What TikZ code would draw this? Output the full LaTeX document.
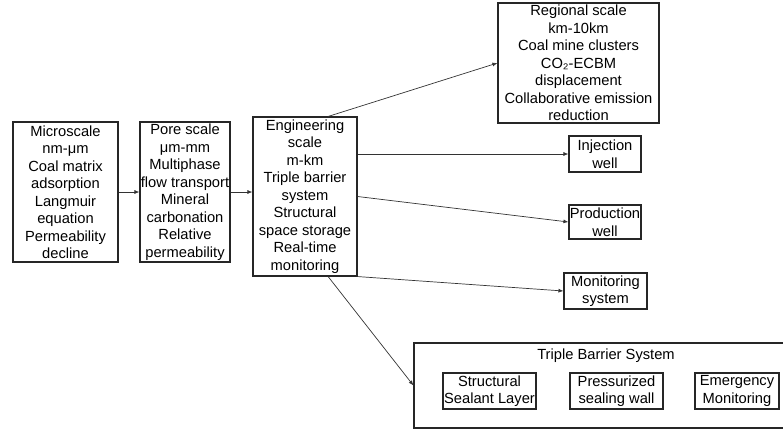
\documentclass[tikz,border=0pt]{standalone}
\usepackage{fontspec}
\setmainfont{Liberation Sans}
\usetikzlibrary{arrows.meta,calc}

\tikzset{
  scalebox/.style={draw=black!85, line width=1.1pt, align=center, inner sep=0.5pt,
    font=\fontsize{14.7}{17.5}\selectfont},
  flowarrow/.style={draw=black!80, line width=0.7pt, -{Latex[length=5pt,width=4pt]}}
}

\begin{document}
\begin{tikzpicture}[x=1pt,y=1pt,yscale=-1]
    %set diagram to the size of the reference
    \useasboundingbox (0,0) rectangle (783,429);

    % Scale boxes
    \node [scalebox, minimum width=105, minimum height=140] (micro) at (65.5,192) {Microscale\\nm-μm\\Coal matrix\\adsorption\\Langmuir\\equation\\Permeability\\decline};
    \node [scalebox, minimum width=90, minimum height=140] (pore) at (185,192) {Pore scale\\μm-mm\\Multiphase\\flow transport\\Mineral\\carbonation\\Relative\\permeability};
    \node [scalebox, minimum width=104, minimum height=159] (eng) at (305,196.5) {Engineering\\scale\\m-km\\Triple barrier\\system\\Structural\\space storage\\Real-time\\monitoring};
    \node [scalebox, minimum width=161, minimum height=120] (region) at (578.5,63) {Regional scale\\km-10km\\Coal mine clusters\\CO₂-ECBM\\displacement\\Collaborative emission\\reduction};

    % Engineering outputs
    \node [scalebox, minimum width=72, minimum height=36] (inject) at (605,154) {Injection\\well};
    \node [scalebox, minimum width=72, minimum height=34] (produce) at (605,222) {Production\\well};
    \node [scalebox, minimum width=83, minimum height=36] (monitor) at (605.5,291) {Monitoring\\system};

    % Triple barrier group
    \node [scalebox, minimum width=376, minimum height=85] (barrier) at (602,385.5) {};
    \node [font=\fontsize{14.7}{17.5}\selectfont, inner sep=0pt] (bartitle) at (606,356) {Triple Barrier System};
    \node [scalebox, minimum width=93, minimum height=36] (sealant) at (489.5,391) {Structural\\Sealant Layer};
    \node [scalebox, minimum width=93, minimum height=36] (wall) at (616.5,391) {Pressurized\\sealing wall};
    \node [scalebox, minimum width=84, minimum height=36] (emerg) at (737,391) {Emergency\\Monitoring};

    % Connectors
    \draw [flowarrow] (micro) -- (pore);
    \draw [flowarrow] (pore) -- (eng.west |- pore.east);
    \draw [flowarrow] ($(eng.north west)!0.72!(eng.north east)$) -- (region.west);
    \draw [flowarrow] (eng.east |- inject.west) -- (inject.west);
    \draw [flowarrow] (eng.east) -- (produce.west);
    \draw [flowarrow] (eng.south east) -- (monitor.west);
    \draw [flowarrow] ($(eng.south west)!0.72!(eng.south east)$) -- (barrier.west);

\end{tikzpicture}
\end{document}
